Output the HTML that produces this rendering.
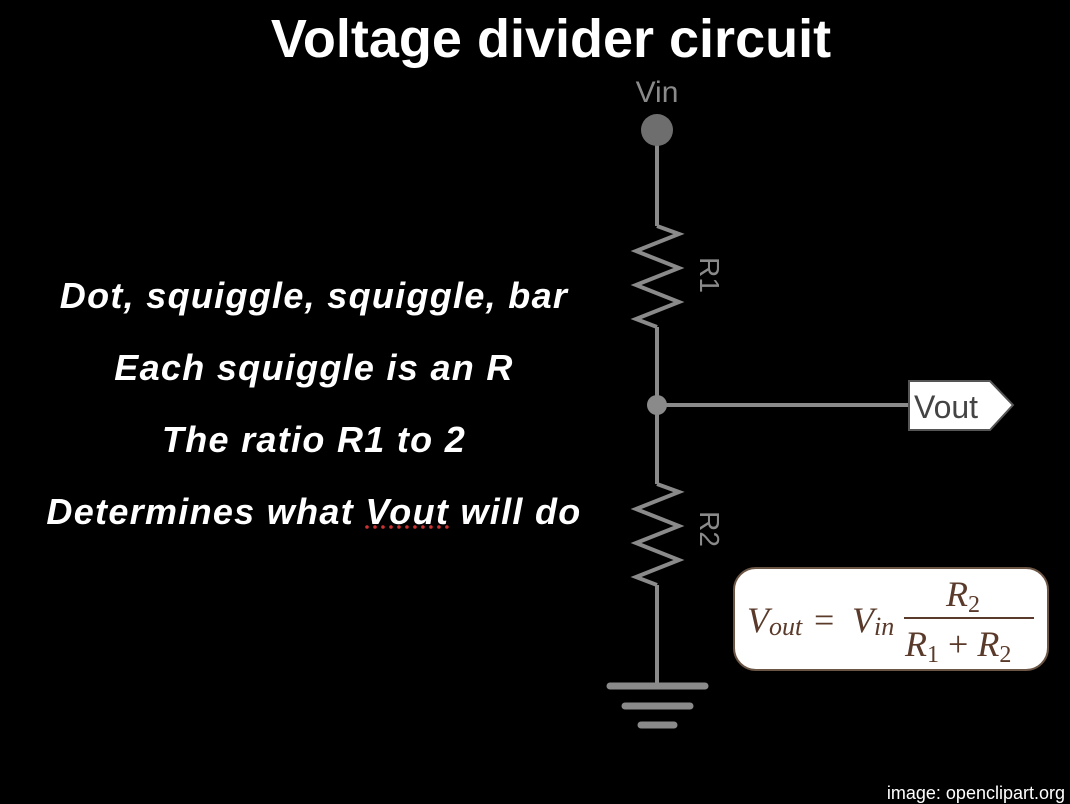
<!DOCTYPE html>
<html><head><style>
body{margin:0;width:1070px;height:804px;background:#000;overflow:hidden;position:relative;font-family:"Liberation Sans",sans-serif}
.t{position:absolute;left:0;width:1102px;text-align:center;top:8px;color:#fff;font-weight:bold;font-size:54px}
.l{position:absolute;left:14px;width:600px;text-align:center;color:#fff;font-weight:bold;font-style:italic;font-size:36px;letter-spacing:1.3px}
.src{position:absolute;right:5px;bottom:0;color:#fff;font-size:18px}
</style></head><body>
<div class="t">Voltage divider circuit</div>
<div class="l" style="top:275px">Dot, squiggle, squiggle, bar</div>
<div class="l" style="top:347px">Each squiggle is an R</div>
<div class="l" style="top:419px">The ratio R1 to 2</div>
<div class="l" style="top:491px">Determines what <span style="text-decoration:underline dotted #c33">Vout</span> will do</div>
<svg width="1070" height="804" style="position:absolute;left:0;top:0">
<g stroke="#8a8a8a" stroke-width="4" fill="none" stroke-linejoin="miter">
<line x1="657" y1="130" x2="657" y2="226"/>
<polyline points="657,226 679,234 636,251 679,268 636,285 679,302 636,319 657,327"/>
<line x1="657" y1="327" x2="657" y2="484"/>
<line x1="657" y1="405" x2="910" y2="405"/>
<polyline points="657,484 679,492 636,509 679,526 636,543 679,560 636,577 657,585"/>
<line x1="657" y1="585" x2="657" y2="686"/>
</g>
<g stroke="#8a8a8a" stroke-width="7" stroke-linecap="round">
<line x1="610" y1="686" x2="705" y2="686"/>
<line x1="625" y1="706" x2="690" y2="706"/>
<line x1="641" y1="725" x2="674" y2="725"/>
</g>
<circle cx="657" cy="130" r="16" fill="#6e6e6e"/>
<circle cx="657" cy="405" r="10" fill="#8a8a8a"/>
<text x="657" y="102" fill="#8a8a8a" font-size="30" text-anchor="middle" font-family="Liberation Sans">Vin</text>
<text transform="translate(700,275) rotate(90)" fill="#8a8a8a" font-size="28" text-anchor="middle" font-family="Liberation Sans">R1</text>
<text transform="translate(700,529) rotate(90)" fill="#8a8a8a" font-size="28" text-anchor="middle" font-family="Liberation Sans">R2</text>
<polygon points="909,381 990,381 1013,405 990,430 909,430" fill="#fff" stroke="#555" stroke-width="2"/>
<text x="914" y="418" fill="#444" font-size="32" font-family="Liberation Sans">Vout</text>
<rect x="734" y="568" width="314" height="102" rx="22" fill="#fff" stroke="#6b5545" stroke-width="2"/>
<g fill="#5a3a2a" font-family="Liberation Serif" font-style="italic" font-size="36">
<text x="747" y="632">V<tspan font-size="26" dy="3">out</tspan></text>
<text x="814" y="632" font-style="normal">=</text>
<text x="852" y="632">V<tspan font-size="26" dy="3">in</tspan></text>
<text x="946" y="606">R<tspan font-size="24" dy="6" font-style="normal">2</tspan></text>
<text x="905" y="656">R<tspan font-size="24" dy="6" font-style="normal">1</tspan><tspan dy="-6" font-style="normal"> + </tspan>R<tspan font-size="24" dy="6" font-style="normal">2</tspan></text>
</g>
<line x1="904" y1="618" x2="1034" y2="618" stroke="#5a3a2a" stroke-width="2"/>
</svg>
<div class="src">image: openclipart.org</div>
</body></html>
